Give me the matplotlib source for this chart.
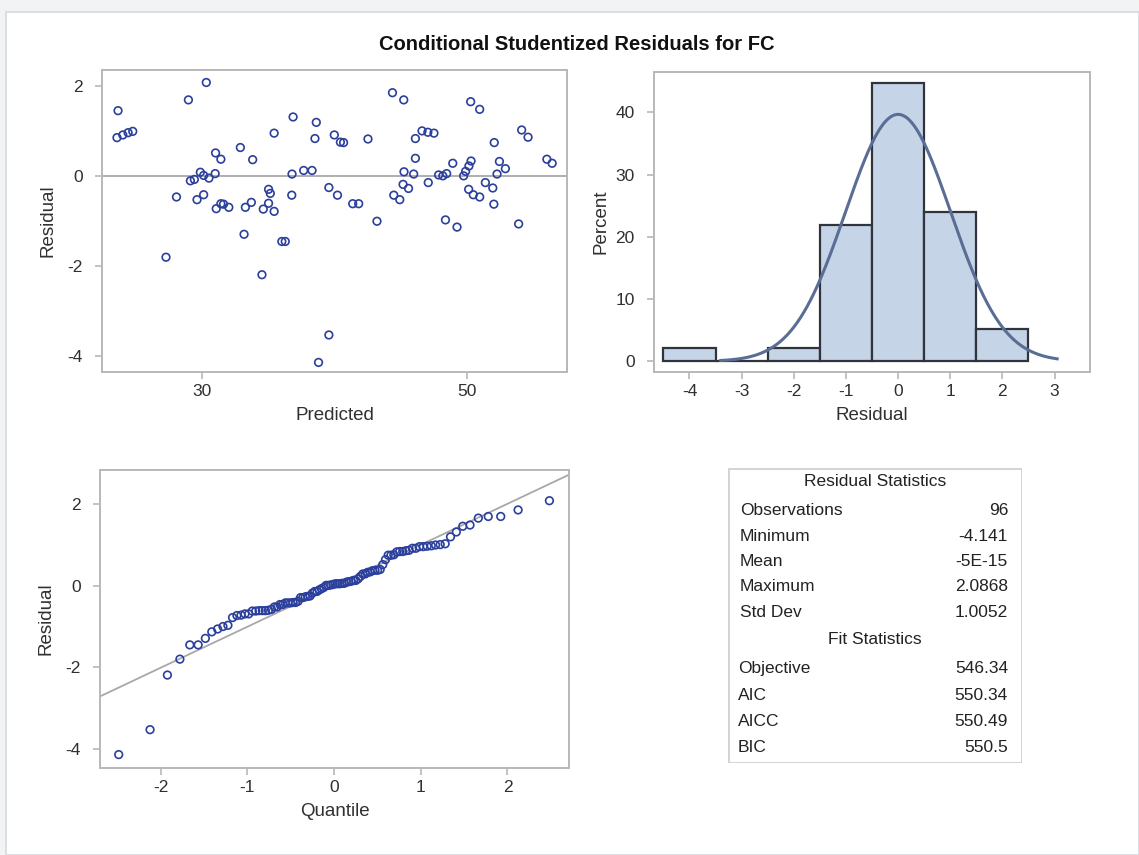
import matplotlib
matplotlib.use("Agg")
import matplotlib.pyplot as plt
from matplotlib.patches import Rectangle
import numpy as np
from statistics import NormalDist

plt.rcParams['font.family'] = ['Liberation Sans', 'DejaVu Sans']
plt.rcParams['axes.unicode_minus'] = False

# ---------------- data ----------------
predicted = [
    23.64, 23.56, 24.00, 24.40, 24.75, 27.26, 28.05, 28.95, 30.30, 29.10,
    29.40, 29.85, 30.10, 30.50, 30.97, 29.60, 30.10, 31.00, 31.40, 31.05,
    31.40, 31.60, 32.00,
    32.87, 33.80, 33.25, 33.70, 33.15, 34.60, 35.00, 35.42, 35.00, 35.13,
    34.50, 35.42, 36.00, 36.26, 36.77, 36.75, 36.85, 37.65, 38.28, 38.60,
    38.50, 39.55, 40.20, 39.96, 40.42, 40.66, 39.55, 38.77, 41.35, 41.80,
    42.50, 43.18,
    44.35, 45.20, 44.45, 44.90, 45.15, 45.56, 45.22, 45.95, 46.08, 46.08,
    46.58, 47.02, 47.48, 47.05, 47.83, 48.15, 48.44, 48.90, 48.35, 49.22,
    49.72, 49.87, 50.12, 50.28, 50.10, 50.45, 50.93, 50.25, 50.93, 51.36,
    51.92, 52.00, 52.03, 52.42, 52.87, 52.24, 53.87, 54.10, 54.58, 56.00,
    56.40,
]
residual = [
    1.46, 0.86, 0.92, 0.97, 1.00, -1.80, -0.46, 1.70, 2.0868, -0.10,
    -0.07, 0.09, 0.02, -0.04, 0.06, -0.52, -0.41, 0.52, 0.38, -0.72,
    -0.61, -0.62, -0.69,
    0.64, 0.37, -0.69, -0.58, -1.29, -0.73, -0.60, -0.78, -0.29, -0.38,
    -2.19, 0.96, -1.45, -1.45, 0.05, -0.42, 1.32, 0.13, 0.13, 1.20,
    0.84, -0.25, -0.42, 0.92, 0.76, 0.75, -3.53, -4.141, -0.61, -0.61,
    0.83, -1.00,
    1.86, 1.70, -0.42, -0.52, -0.18, -0.27, 0.10, 0.05, 0.40, 0.84,
    1.01, 0.98, 0.96, -0.14, 0.03, 0.01, 0.06, 0.29, -0.97, -1.13,
    0.01, 0.11, 0.23, 0.34, -0.29, -0.41, -0.46, 1.66, 1.49, -0.14,
    -0.26, -0.62, 0.75, 0.33, 0.17, 0.05, -1.06, 1.03, 0.87, 0.38,
    0.29,
]

hist_edges = [-4.5, -3.5, -2.5, -1.5, -0.5, 0.5, 1.5, 2.5]
hist_ticks = [-4, -3, -2, -1, 0, 1, 2, 3]
scatter_xticks = [30, 50]
resid_yticks = [2, 0, -2, -4]
hist_yticks = [0, 10, 20, 30, 40]
qq_xticks = [-2, -1, 0, 1, 2]

stat_labels = ["Observations", "Minimum", "Mean", "Maximum", "Std Dev"]
stat_values = ["96", "-4.141", "-5E-15", "2.0868", "1.0052"]
fit_labels = ["Objective", "AIC", "AICC", "BIC"]
fit_values = ["546.34", "550.34", "550.49", "550.5"]
resid_mean = 0.0
resid_sd = 1.0052

# ---------------- style ----------------
W, H = 1139, 855
marker_col = '#2b3f9c'
spine_col = '#b8b8b8'
text_col = '#303030'
bar_fill = '#c6d4e7'
bar_edge = '#2f343d'
curve_col = '#5a6e95'
ref_col = '#a8a8a8'

fig = plt.figure(figsize=(W / 100, H / 100), dpi=100)
fig.patch.set_facecolor('#f2f3f5')
fig.add_artist(Rectangle((6 / W, 0), 1 - 6 / W, 1 - 12 / H, transform=fig.transFigure,
                         facecolor='white', edgecolor='#d5d8de', lw=1.2, zorder=0))


def px_axes(left, right, top, bottom):
    return fig.add_axes([left / W, 1 - bottom / H, (right - left) / W, (bottom - top) / H])


def style(ax):
    for s in ax.spines.values():
        s.set_color(spine_col)
        s.set_linewidth(1.4)
    ax.tick_params(colors=spine_col, labelcolor=text_col, labelsize=12.5,
                   length=5, width=1.2, direction='out')
    ax.tick_params(axis='y', pad=9)


# ---- residual vs predicted ----
ax1 = px_axes(102, 567, 70, 372)
style(ax1)
ax1.axhline(0, color=ref_col, lw=1.3, zorder=1)
ax1.scatter(predicted, residual, s=30, facecolors='none', edgecolors=marker_col,
            linewidths=1.2, zorder=2)
ax1.set_xlim(22.43, 57.52)
ax1.set_ylim(-4.354, 2.365)
ax1.set_xticks(scatter_xticks)
ax1.set_yticks(resid_yticks)
ax1.set_xlabel("Predicted", fontsize=13.5, color=text_col, labelpad=6)
ax1.set_ylabel("Residual", fontsize=13.5, color=text_col, labelpad=8)

# ---- histogram ----
ax2 = px_axes(654, 1090, 72, 372)
style(ax2)
counts, _ = np.histogram(residual, bins=hist_edges)
pct = counts / len(residual) * 100
centers = [(a + b) / 2 for a, b in zip(hist_edges[:-1], hist_edges[1:])]
ax2.bar(centers, pct, width=1.0, color=bar_fill, edgecolor=bar_edge, linewidth=1.6, zorder=2)
xs = np.linspace(-3.4, 3.05, 300)
dens = np.array([NormalDist(resid_mean, resid_sd).pdf(v) for v in xs]) * 100 * 1.0
ax2.plot(xs, dens, color=curve_col, lw=2.2, zorder=3)
ax2.set_xlim(-4.68, 3.68)
ax2.set_ylim(-1.72, 46.5)
ax2.set_xticks(hist_ticks)
ax2.set_xticklabels([str(t) for t in hist_ticks])
ax2.set_yticks(hist_yticks)
ax2.set_xlabel("Residual", fontsize=13.5, color=text_col, labelpad=6)
ax2.set_ylabel("Percent", fontsize=13.5, color=text_col, labelpad=4)

# ---- QQ plot ----
ax3 = px_axes(100, 569, 470, 768)
style(ax3)
n = len(residual)
sorted_res = np.sort(residual)
quant = [NormalDist().inv_cdf((i - 0.375) / (n + 0.25)) for i in range(1, n + 1)]
xl = np.array([-2.70, 2.71])
ax3.plot(xl, resid_mean + resid_sd * xl, color=ref_col, lw=1.3, zorder=1)
ax3.scatter(quant, sorted_res, s=30, facecolors='none', edgecolors=marker_col,
            linewidths=1.2, zorder=2)
ax3.set_xlim(-2.70, 2.71)
ax3.set_ylim(-4.47, 2.84)
ax3.set_xticks(qq_xticks)
ax3.set_yticks(resid_yticks)
ax3.set_xlabel("Quantile", fontsize=13.5, color=text_col, labelpad=6)
ax3.set_ylabel("Residual", fontsize=13.5, color=text_col, labelpad=8)

# ---- statistics table ----
ax4 = px_axes(728, 1022, 468, 763)
ax4.set_xlim(728, 1022)
ax4.set_ylim(763, 468)
ax4.axis('off')
ax4.add_patch(Rectangle((728.5, 468.5), 293, 294, facecolor='white', edgecolor='#d0d0d0', lw=1.3))
tfs = 12.5
ax4.text(875, 481, "Residual Statistics", ha='center', va='center', fontsize=tfs, color='#222')
row_y = [510, 536, 561, 586, 612]
for lab, val, yy in zip(stat_labels, stat_values, row_y):
    ax4.text(740, yy, lab, ha='left', va='center', fontsize=tfs, color='#222')
    ax4.text(1008, yy, val, ha='right', va='center', fontsize=tfs, color='#222')
ax4.text(875, 639, "Fit Statistics", ha='center', va='center', fontsize=tfs, color='#222')
fit_y = [668, 695, 721, 747]
for lab, val, yy in zip(fit_labels, fit_values, fit_y):
    ax4.text(738, yy, lab, ha='left', va='center', fontsize=tfs, color='#222')
    ax4.text(1008, yy, val, ha='right', va='center', fontsize=tfs, color='#222')

fig.text(577 / W, 1 - 45 / H, "Conditional Studentized Residuals for FC",
         ha='center', va='center', fontsize=14.5, fontweight='bold', color='#111')

fig.savefig("out.png", dpi=100, facecolor=fig.get_facecolor())
